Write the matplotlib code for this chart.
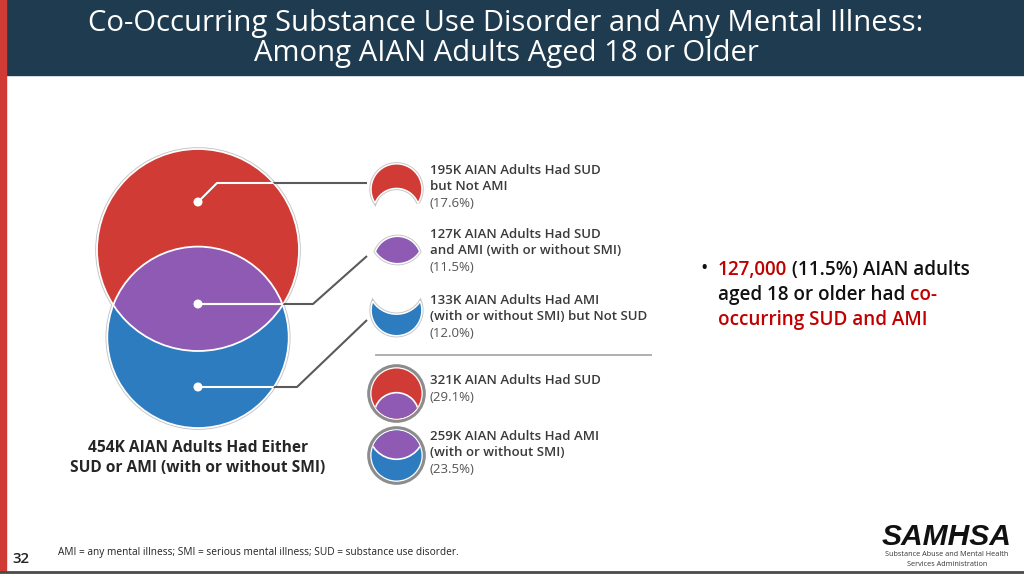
import numpy as np
import matplotlib
matplotlib.use("Agg")
import matplotlib.pyplot as plt
from matplotlib.patches import Circle, Polygon, Rectangle

# ---------------- data (thousands of AIAN adults) ----------------
sud_total = 321
ami_total = 259
both = 127
sud_only = 195
ami_only = 133
either = 454
pct_sud_only = 17.6
pct_both = 11.5
pct_ami_only = 12.0
pct_sud = 29.1
pct_ami = 23.5

title_lines = ["Co-Occurring Substance Use Disorder and Any Mental Illness:",
               "Among AIAN Adults Aged 18 or Older"]
label_bold = [[f"{sud_only}K AIAN Adults Had SUD", "but Not AMI"],
              [f"{both}K AIAN Adults Had SUD", "and AMI (with or without SMI)"],
              [f"{ami_only}K AIAN Adults Had AMI", "(with or without SMI) but Not SUD"],
              [f"{sud_total}K AIAN Adults Had SUD"],
              [f"{ami_total}K AIAN Adults Had AMI", "(with or without SMI)"]]
label_pct = [pct_sud_only, pct_both, pct_ami_only, pct_sud, pct_ami]
caption = [f"{either}K AIAN Adults Had Either", "SUD or AMI (with or without SMI)"]
footnote = "AMI = any mental illness; SMI = serious mental illness; SUD = substance use disorder."

RED, PURPLE, BLUE = "#D13B35", "#8E5AB3", "#2E7CC0"
NAVY = "#1F3B4F"
GRAYLINE = "#5a5a5a"
FONT = ["Open Sans", "DejaVu Sans"]

W, H = 1024, 576
fig = plt.figure(figsize=(10.24, 5.76), dpi=100)
ax = fig.add_axes([0, 0, 1, 1])
ax.set_xlim(0, W)
ax.set_ylim(H, 0)
ax.axis("off")
renderer = fig.canvas.get_renderer()

def pt(px):
    return px * 72 / 100

# ---------------- frame ----------------
ax.add_patch(Rectangle((0, 0), W, 75, color=NAVY, zorder=0))
ax.add_patch(Rectangle((0, 0), 6, 571, color="#D13B35", zorder=1))
ax.plot([0, W], [571.5, 571.5], color="#4a4a4a", lw=2, zorder=1)
for i, t in enumerate(title_lines):
    ax.text(506, 23 + 31 * i, t, color="white", fontsize=pt(29.2), family=FONT,
            ha="center", va="center", fontweight="medium")

# ---------------- Venn geometry from data ----------------
k = 101 / np.sqrt(sud_total)          # pixels per sqrt(thousand)
rA = k * np.sqrt(sud_total)
rB = k * np.sqrt(ami_total)

def inter_area(r1, r2, d):
    c1 = np.clip((d * d + r1 * r1 - r2 * r2) / (2 * d * r1), -1, 1)
    c2 = np.clip((d * d + r2 * r2 - r1 * r1) / (2 * d * r2), -1, 1)
    s = (-d + r1 + r2) * (d + r1 - r2) * (d - r1 + r2) * (d + r1 + r2)
    return r1 * r1 * np.arccos(c1) + r2 * r2 * np.arccos(c2) - 0.5 * np.sqrt(max(s, 0))

target = np.pi * k * k * both
lo, hi = abs(rA - rB) + 1e-6, rA + rB - 1e-6
for _ in range(80):
    mid = 0.5 * (lo + hi)
    if inter_area(rA, rB, mid) > target:
        lo = mid
    else:
        hi = mid
d = 0.5 * (lo + hi)

cA = np.array([198.0, 250.0])
cB = cA + np.array([0.0, d])
a = (d * d + rA * rA - rB * rB) / (2 * d)
b = d - a
hch = np.sqrt(rA * rA - a * a)
alpha = np.arctan2(a, hch)
beta = np.arctan2(b, hch)

def arc(c, r, t0, t1, n=120):
    t = np.linspace(t0, t1, n)
    return np.column_stack([c[0] + r * np.cos(t), c[1] + r * np.sin(t)])

region_A = np.vstack([arc(cA, rA, np.pi - alpha, 2 * np.pi + alpha),
                      arc(cB, rB, -beta, beta - np.pi)])
region_AB = np.vstack([arc(cA, rA, alpha, np.pi - alpha),
                       arc(cB, rB, beta - np.pi, -beta)])
region_B = np.vstack([arc(cB, rB, -beta, np.pi + beta),
                      arc(cA, rA, np.pi - alpha, alpha)])

# big Venn
for c, r in [(cA, rA), (cB, rB)]:
    ax.add_patch(Circle(c, r, fill=False, ec="#c4c4c4", lw=2.6, zorder=2))
ax.add_patch(Circle(cA, rA, fc=RED, ec="none", zorder=3))
ax.add_patch(Circle(cB, rB, fc=BLUE, ec="none", zorder=3))
ax.add_patch(Polygon(region_AB, fc=PURPLE, ec="none", zorder=4))
for c, r in [(cA, rA), (cB, rB)]:
    ax.add_patch(Circle(c, r, fill=False, ec="white", lw=1.3, zorder=5))

# leaders
dots = [(198, 202), (198, 304), (198, 387)]
leaders = [[(198, 202), (217, 183), (367, 183)],
           [(198, 304), (313, 304), (367, 256)],
           [(198, 387), (297, 387), (367, 320)]]
for L in leaders:
    xs, ys = zip(*L)
    ax.plot(xs, ys, color=GRAYLINE, lw=1.5, zorder=6, solid_capstyle="butt")
    for cp in (Circle(cA, rA, transform=ax.transData), Circle(cB, rB, transform=ax.transData)):
        ln, = ax.plot(xs, ys, color="white", lw=1.5, zorder=7)
        ln.set_clip_path(cp)
for (x, y) in dots:
    ax.add_patch(Circle((x, y), 4.5, fc="white", ec="none", zorder=8))

# ---------------- icons ----------------
def place(poly, s, center):
    mn, mx = poly.min(0), poly.max(0)
    ref = 0.5 * (mn + mx)
    return (poly - ref) * s + np.array(center)

icon_specs = [(region_A, RED, 0.2525, (396.5, 183.5)),
              (region_AB, PURPLE, 0.262, (397.5, 250.0)),
              (region_B, BLUE, 0.28, (396.5, 318.5))]
for poly, col, s, cen in icon_specs:
    p = place(poly, s, cen)
    ax.add_patch(Polygon(p, fc="none", ec="#c4c4c4", lw=2.4, zorder=3))
    ax.add_patch(Polygon(p, fc=col, ec="white", lw=1.1, zorder=4))

def full_icon(center, base_c, base_r, base_col, pos_poly, other_c, other_r):
    R = 25.0
    s = R / base_r
    cen = np.array(center)
    ax.add_patch(Circle(cen, 27.8, fc="white", ec="#8c8c8c", lw=2.2, zorder=3))
    ax.add_patch(Circle(cen, R, fc=base_col, ec="none", zorder=4))
    p = (pos_poly - base_c) * s + cen
    ax.add_patch(Polygon(p, fc=PURPLE, ec="none", zorder=5))
    oc = (other_c - base_c) * s + cen
    ring = Circle(oc, other_r * s, fill=False, ec="white", lw=1.2, zorder=6)
    ax.add_patch(ring)
    ring.set_clip_path(Circle(cen, R, transform=ax.transData))

full_icon((396.5, 393.5), cA, rA, RED, region_AB, cB, rB)
full_icon((396.5, 455.5), cB, rB, BLUE, region_AB, cA, rA)

ax.plot([376, 651], [355, 355], color="#a8a8a8", lw=1.3, zorder=2)

# ---------------- labels ----------------
label_y = [170, 234, 300, 381, 436]
LS = 16.7
for lines, p, y0 in zip(label_bold, label_pct, label_y):
    for j, t in enumerate(lines):
        ax.text(430, y0 + j * LS, t, fontsize=pt(13.2), family=FONT, fontweight="semibold",
                color="#3a3a3a", va="center", ha="left")
    ax.text(430, y0 + len(lines) * LS, f"({p:.1f}%)", fontsize=pt(13.2), family=FONT,
            fontweight="normal", color="#555555", va="center", ha="left")

for j, t in enumerate(caption):
    ax.text(198, 448 + 20 * j, t, fontsize=pt(15.5), family=FONT, fontweight="bold",
            color="#262626", ha="center", va="center")

# ---------------- bullet text ----------------
def runs(x, y, parts, size):
    for txt, col in parts:
        t = ax.text(x, y, txt, fontsize=size, family=FONT, fontweight="semibold",
                    color=col, ha="left", va="center")
        bb = t.get_window_extent(renderer)
        x += bb.width

DRED, BLK = "#C00000", "#111111"
ax.text(700, 269, "\u2022", fontsize=pt(20), family=FONT, color=BLK, ha="left", va="center")
runs(718, 270, [(f"{both * 1000:,}", DRED), (f" ({pct_both:.1f}%) AIAN adults", BLK)], pt(18.9))
runs(718, 295, [("aged 18 or older had ", BLK), ("co-", DRED)], pt(18.9))
runs(718, 320, [("occurring SUD and AMI", DRED)], pt(18.9))

# ---------------- footer ----------------
ax.text(12, 559, "32", fontsize=pt(15), family=FONT, fontweight="semibold",
        color="#222222", ha="left", va="center")
ax.text(58, 552, footnote, fontsize=pt(10.1), family=FONT, color="#222222", ha="left", va="center")
ax.text(947, 537, "SAMHSA", fontsize=pt(30), family=["Liberation Sans", "DejaVu Sans"],
        fontweight="bold", fontstyle="italic", color="#111111", ha="center", va="center")
ax.text(947, 555, "Substance Abuse and Mental Health", fontsize=pt(7.3), family=FONT,
        color="#333333", ha="center", va="center")
ax.text(947, 564, "Services Administration", fontsize=pt(7.3), family=FONT,
        color="#333333", ha="center", va="center")

fig.savefig("out.png", dpi=100)
